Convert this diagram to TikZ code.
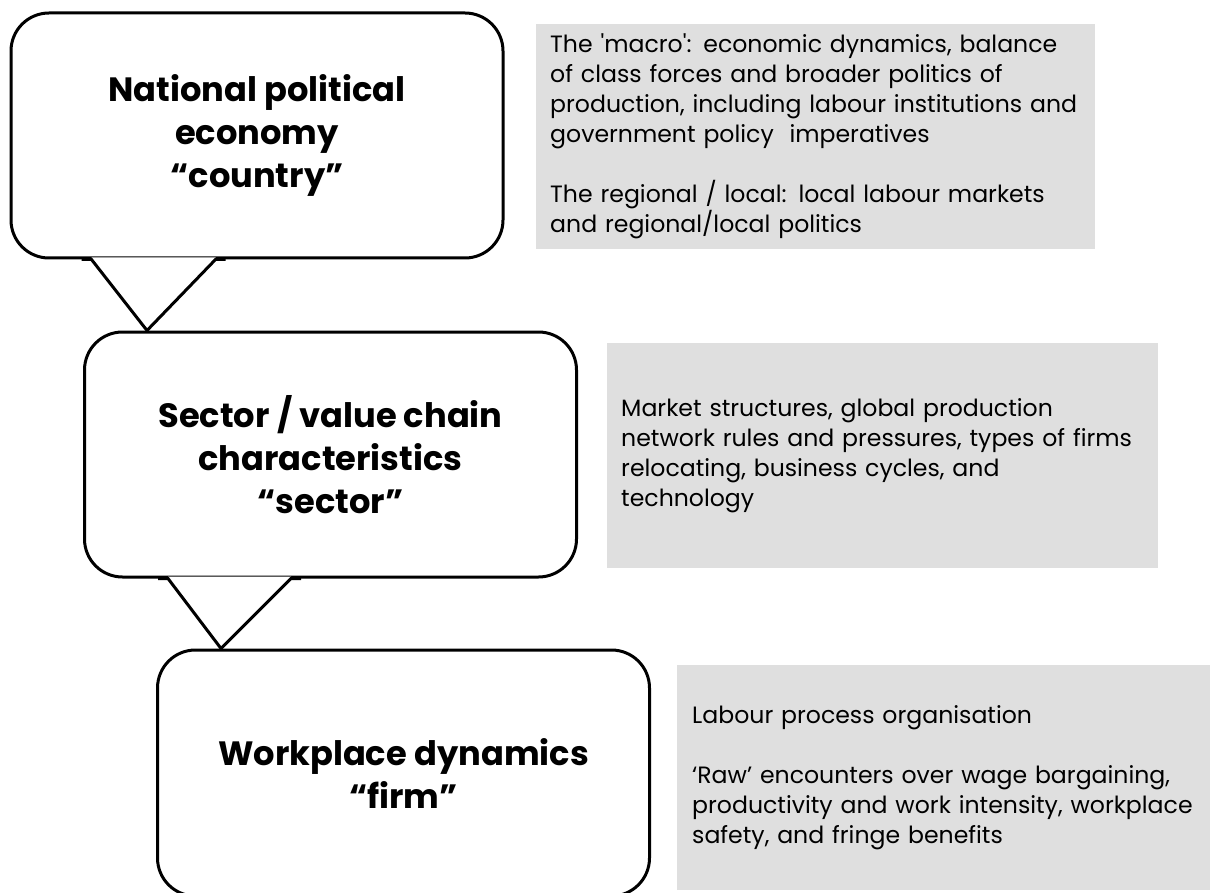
\documentclass[tikz,border=0pt]{standalone}
\usepackage{fontspec}
\setmainfont{Poppins}
\usepackage{tikz}
\usetikzlibrary{positioning, calc}
\definecolor{notegray}{RGB}{223,223,223}

\begin{document}
\begin{tikzpicture}[
    x=1pt, y=-1pt,
    level/.style={draw, line width=3pt, rounded corners=38pt, minimum width=492pt, minimum height=245pt, align=center, font=\fontsize{33.7}{43}\selectfont\bfseries},
    note/.style={fill=notegray, anchor=north west, align=left, inner xsep=14pt, minimum height=225pt, font={\fontsize{23.6}{30}\selectfont\hyphenpenalty=10000\relax}},
    tail/.style={line width=3pt, line join=miter}
]
    \useasboundingbox (0,0) rectangle (1210,893);

    % Levels
    \node[level] (country) at (257,135.5) {National political\\economy\\“country”};
    \node[level] (sector) at (330.5,454.5) {Sector / value chain\\characteristics\\“sector”};
    \node[level, minimum height=246pt] (firm) at (403.5,773) {Workplace dynamics\\“firm”};

    % Descriptions
    \node[note, minimum width=559pt, text width=531pt] (macro) at (536,24)
        {The \textquotesingle macro\textquotesingle: economic dynamics, balance\\of class forces and broader politics of\\production, including labour institutions and\\government policy\ \ imperatives\\[30pt]The regional / local: local labour markets\\and regional/local politics};
    \node[note, minimum width=551pt, text width=523pt] (chain) at (607,343)
        {Market structures, global production\\network rules and pressures, types of firms\\relocating, business cycles, and\\technology};
    \node[note, minimum width=570pt, text width=540pt, inner xsep=15pt] (work) at (677,665)
        {Labour process organisation\\[30pt]‘Raw’ encounters over wage bargaining,\\productivity and work intensity, workplace\\safety, and fringe benefits};

    % Tails
    \coordinate (t1a) at ($(country.south west)+(82,0)$);
    \coordinate (t1b) at ($(country.south west)+(206,0)$);
    \coordinate (t1) at ($(sector.north west)+(64,0)$);
    \fill[white] ($(t1a)+(0,-2)$) -- ($(t1b)+(0,-2)$) -- (t1b) -- (t1) -- (t1a) -- cycle;
    \draw[tail] ($(t1a)+(-10,0)$) -- (t1a) -- (t1) -- (t1b) -- ($(t1b)+(10,0)$);

    \coordinate (t2a) at ($(sector.south west)+(85,0)$);
    \coordinate (t2b) at ($(sector.south west)+(208,0)$);
    \coordinate (t2) at ($(firm.north west)+(65,0)$);
    \fill[white] ($(t2a)+(0,-2)$) -- ($(t2b)+(0,-2)$) -- (t2b) -- (t2) -- (t2a) -- cycle;
    \draw[tail] ($(t2a)+(-10,0)$) -- (t2a) -- (t2) -- (t2b) -- ($(t2b)+(10,0)$);
\end{tikzpicture}
\end{document}
